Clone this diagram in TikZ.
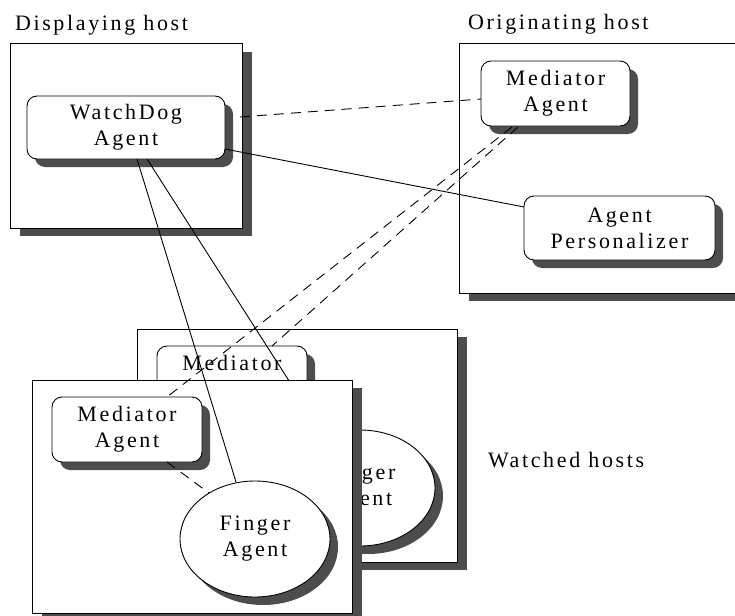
\documentclass[tikz,border=0pt]{standalone}
\usepackage{fontspec}
\setmainfont{Liberation Serif}[LetterSpace=12]
\usetikzlibrary{shadows,calc,shapes.geometric}
\definecolor{shade}{HTML}{4D4D4D}
\newcommand\diagfont{\fontsize{22}{26}\selectfont}
\begin{document}
\begin{tikzpicture}[x=1pt,y=-1pt,
  every node/.style={font=\diagfont, inner sep=0pt, outer sep=0pt},
  hostbox/.style={draw, fill=white, line width=1pt,
    general shadow={fill=shade, shadow xshift=10pt, shadow yshift=-8pt}},
  agentbox/.style={draw, fill=white, line width=0.9pt, rounded corners=10pt,
    align=center, minimum width=150pt, minimum height=65pt,
    general shadow={fill=shade, shadow xshift=8pt, shadow yshift=-8pt}},
  fingerbox/.style={draw, fill=white, line width=0.9pt, ellipse, align=center,
    minimum width=150pt, minimum height=116pt,
    general shadow={fill=shade, shadow xshift=8pt, shadow yshift=-8pt}},
  link/.style={draw, line width=0.9pt},
  dlink/.style={draw, line width=0.9pt, dash pattern=on 10pt off 7pt},
  hostlabel/.style={anchor=base west}
]
\useasboundingbox (0,0) rectangle (735,615);
\clip (0,0) rectangle (735,615);

% Displaying host
\node[hostbox, minimum width=232pt, minimum height=184pt] (disp) at (126,136) {};
\node[agentbox, minimum width=198pt, minimum height=63pt] (wd) at (126,127.5) {WatchDog\\Agent};
\node[hostlabel] (displabel) at (15,31) {Displaying host};

% Originating host
\node[hostbox, minimum width=286pt, minimum height=249pt] (orig) at (602,168.5) {};
\node[agentbox, minimum width=149pt] (omed) at (555.5,93.5) {Mediator\\Agent};
\node[agentbox, minimum width=191pt, minimum height=64pt] (pers) at (619.5,228) {Agent\\Personalizer};
\node[hostlabel] (origlabel) at (468,30) {Originating host};

% Watched hosts (back)
\node[hostbox, minimum width=320pt, minimum height=233pt] (bhost) at (297,445.5) {};
\node[agentbox] (bmed) at (232,378.5) {Mediator\\Agent};
\node[fingerbox] (bf) at (360,488) {Finger\\Agent};

% connectors in the upper part
\coordinate (d1) at ($(disp.east)+(-2,-19)$);
\path[dlink] (d1) -- ($(omed.west)+(0,5.5)$);
\path[link] ($(wd.south east)+(0,-10)$) -- ($(pers.west)+(0,-21)$);
\path[link] ($(wd.south)+(21,0)$) -- ($(bf.north)+(-35,7)$);
\path[dlink] ($(omed.south)+(-37.5,1)$) -- ($(bmed.north)+(40,0)$);
\path[dlink] ($(bmed.south)+(40,0)$) -- (bf.135);

% Watched hosts (front)
\node[hostbox, minimum width=320pt, minimum height=233pt] (fhost) at (192,496.5) {};
\node[agentbox] (fmed) at (127,429.5) {Mediator\\Agent};
\node[fingerbox] (ff) at (255,539) {Finger\\Agent};
\node[hostlabel] (watchlabel) at (488,467) {Watched hosts};

\path[link] ($(wd.south)+(11,0)$) -- ($(ff.north)+(-19,1)$);
\path[dlink] ($(omed.south)+(-43.5,1)$) -- ($(fmed.north)+(40,0)$);
\path[dlink] ($(fmed.south)+(40,0)$) -- (ff.135);
\end{tikzpicture}
\end{document}
